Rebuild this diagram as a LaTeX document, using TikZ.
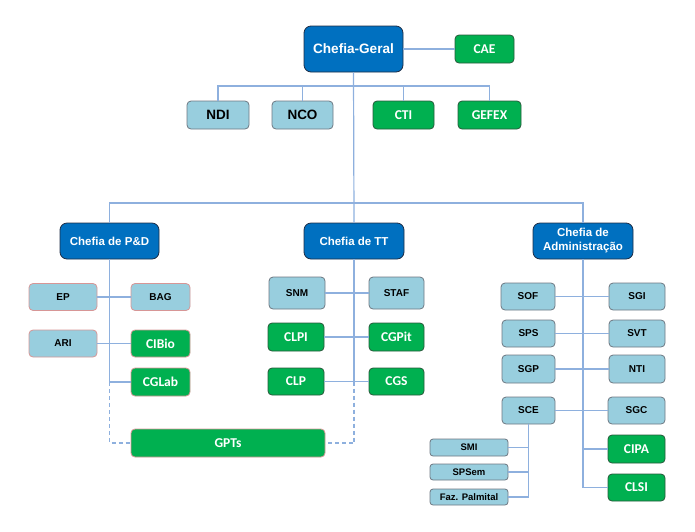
\documentclass[tikz,border=0pt]{standalone}
\usepackage{fontspec}
\setmainfont{Liberation Sans}
\newfontfamily\calfont{Carlito}
\definecolor{dblue}{RGB}{0,112,192}
\definecolor{dborder}{RGB}{30,45,70}
\definecolor{lblue}{RGB}{152,206,222}
\definecolor{lborder}{RGB}{110,120,130}
\definecolor{gfill}{RGB}{0,176,80}
\definecolor{gborder}{RGB}{40,90,60}
\definecolor{pborder}{RGB}{215,150,150}
\definecolor{conn}{RGB}{142,176,222}
\tikzset{
  box/.style={rectangle, rounded corners=4pt, line width=0.8pt, inner sep=0pt, align=center},
  chief/.style={box, fill=dblue, draw=dborder, text=white, rounded corners=7pt,
    font=\fontsize{11.5}{14}\selectfont\bfseries},
  unitbox/.style={box, fill=lblue, draw=lborder, text=black,
    font=\fontsize{10}{12}\selectfont\bfseries},
  greenbox/.style={box, fill=gfill, draw=gborder, text=white,
    font=\calfont\fontsize{13.5}{15}\selectfont\bfseries},
  pink/.style={draw=pborder},
  wh/.style 2 args={minimum width=#1pt, minimum height=#2pt},
  link/.style={draw=conn, line width=1.2pt},
  dlink/.style={draw=conn, line width=1.2pt, dash pattern=on 4pt off 3pt}
}
\begin{document}
\begin{tikzpicture}[x=1pt,y=-1pt]
\useasboundingbox (0,0) rectangle (695,531);
% top
\node[chief, wh={99}{46}, font=\fontsize{13.6}{16}\selectfont\bfseries] (CG) at (353.5,49) {Chefia-Geral};
\node[greenbox, wh={59}{28}] (CAE) at (484.5,49) {CAE};
\node[unitbox, wh={62}{28}, font=\fontsize{13.5}{15}\selectfont\bfseries] (NDI) at (218,115) {NDI};
\node[unitbox, wh={61}{28}, font=\fontsize{13.5}{15}\selectfont\bfseries] (NCO) at (302.5,115) {NCO};
\node[greenbox, wh={61}{28}] (CTI) at (403.5,115) {CTI};
\node[greenbox, wh={63}{28}] (GEFEX) at (489.5,115) {GEFEX};
% chiefs
\node[chief, wh={99}{36}] (PD) at (109.5,241) {Chefia de P\&D};
\node[chief, wh={100}{36}] (TT) at (354,241) {Chefia de TT};
\node[chief, wh={100}{36}] (ADM) at (583,241) {Chefia de\\Administração};
% P&D
\node[unitbox, pink, wh={68}{27}] (EP) at (63,297) {EP};
\node[unitbox, pink, wh={59}{27}] (BAG) at (160.5,297) {BAG};
\node[unitbox, pink, wh={68}{27}] (ARI) at (63,343.5) {ARI};
\node[greenbox, pink, wh={59}{27}] (CIBio) at (160.5,343.5) {CIBio};
\node[greenbox, pink, wh={59}{28}] (CGLab) at (160.5,382) {CGLab};
\node[greenbox, pink, wh={194}{28}] (GPTs) at (228,443) {GPTs};
% TT
\node[unitbox, wh={56}{32}] (SNM) at (297,293) {SNM};
\node[unitbox, wh={55}{32}] (STAF) at (396.5,293) {STAF};
\node[greenbox, wh={56}{28}] (CLPI) at (296,337) {CLPI};
\node[greenbox, wh={55}{28}] (CGPit) at (396.5,337) {CGPit};
\node[greenbox, wh={56}{27}] (CLP) at (296,381.5) {CLP};
\node[greenbox, wh={55}{27}] (CGS) at (396.5,381.5) {CGS};
% Administration
\node[unitbox, wh={54}{27}] (SOF) at (528,296.5) {SOF};
\node[unitbox, wh={56}{27}] (SGI) at (637,296.5) {SGI};
\node[unitbox, wh={53}{27}] (SPS) at (528.5,333.5) {SPS};
\node[unitbox, wh={56}{27}] (SVT) at (637,333.5) {SVT};
\node[unitbox, wh={53}{28}] (SGP) at (528.5,369) {SGP};
\node[unitbox, wh={56}{28}] (NTI) at (637,369) {NTI};
\node[unitbox, wh={53}{27}] (SCE) at (528.5,410.5) {SCE};
\node[unitbox, wh={57}{27}] (SGC) at (636.5,410.5) {SGC};
\node[greenbox, wh={57}{28}] (CIPA) at (636.5,449) {CIPA};
\node[greenbox, wh={57}{27}] (CLSI) at (636.5,487.5) {CLSI};
\node[unitbox, wh={78}{17}, rounded corners=3pt, font=\fontsize{9.5}{11}\selectfont\bfseries] (SMI) at (469,447.5) {SMI};
\node[unitbox, wh={78}{16}, rounded corners=3pt, font=\fontsize{9.5}{11}\selectfont\bfseries] (SPSem) at (469,472) {SPSem};
\node[unitbox, wh={78}{16}, rounded corners=3pt, font=\fontsize{9.5}{11}\selectfont\bfseries] (FAZ) at (469,497) {Faz. Palmital};
% buses
\coordinate (b1) at (354,86);
\coordinate (b2) at (354,203);
% connectors
\path[link] (CG.east) -- (CAE.west);
\path[link] (CG.south) -- (TT.north);
\path[link] (NDI.north) |- (GEFEX.north |- b1) -- (GEFEX.north);
\path[link] (NCO.north) -- (NCO.north |- b1);
\path[link] (CTI.north) -- (CTI.north |- b1);
\path[link] (PD.north) |- (b2) -| (ADM.north);
% P&D
\path[link] (PD.south) -- (PD.south |- CGLab.west) -- (CGLab.west);
\path[dlink] (PD.south |- CGLab.west) |- (GPTs.west);
\path[link] (EP.east) -- (BAG.west);
\path[link] (ARI.east) -- (CIBio.west);
% TT
\path[link] (TT.south) -- (TT.south |- CLP.east);
\path[dlink] (TT.south |- CLP.east) |- (GPTs.east);
\path[link] (SNM.east) -- (STAF.west);
\path[link] (CLPI.east) -- (CGPit.west);
\path[link] (CLP.east) -- (CGS.west);
% Adm
\path[link] (ADM.south) |- (CLSI.west);
\path[link] (ADM.south |- CIPA.west) -- (CIPA.west);
\path[link] (SOF.east) -- (SGI.west);
\path[link] (SPS.east) -- (SVT.west);
\path[link] (SGP.east) -- (NTI.west);
\path[link] (SCE.east) -- (SGC.west);
\path[link] (SCE.south) |- (FAZ.east);
\path[link] (SMI.east) -- (SMI.east -| SCE.south);
\path[link] (SPSem.east) -- (SPSem.east -| SCE.south);
\end{tikzpicture}
\end{document}
